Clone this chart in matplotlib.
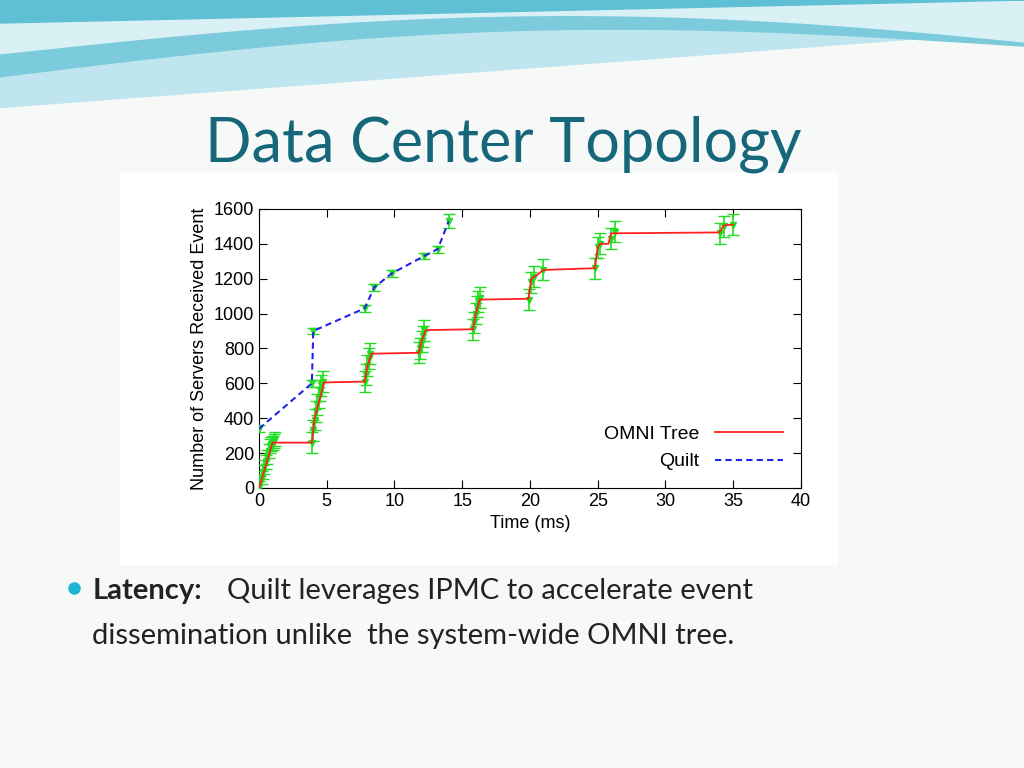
import matplotlib
matplotlib.use("Agg")
import matplotlib.pyplot as plt
import numpy as np

# Data
omni_t = [0, 1.0, 3.9, 4.1, 4.8, 7.8, 8.0, 8.3, 11.8, 12.0, 12.3, 15.8, 16.0, 16.3, 19.9, 20.1, 20.5, 21.0, 24.8, 25.0, 25.2, 25.8, 26.0, 34.0, 34.3, 35.0]
omni_n = [0, 260, 260, 400, 605, 610, 700, 770, 775, 840, 905, 910, 1000, 1080, 1085, 1200, 1220, 1250, 1260, 1380, 1400, 1400, 1460, 1465, 1505, 1510]
quilt_t = [0, 3.9, 4.0, 7.8, 8.5, 9.8, 12.2, 13.2, 14.0]
quilt_n = [340, 600, 900, 1030, 1150, 1230, 1330, 1370, 1530]
# error bar sample points (time, value, half-error)
err_t = [0, 0.1, 0.2, 0.3, 0.4, 0.5, 0.6, 0.7, 0.8, 0.9, 1.0, 1.1, 1.2,
         3.9, 4.0, 4.1, 4.2, 4.3, 4.4, 4.5, 4.6, 4.7,
         7.8, 7.9, 8.0, 8.1, 8.2, 11.8, 11.9, 12.0, 12.1, 12.2,
         15.8, 15.9, 16.0, 16.1, 16.2, 16.3, 19.9, 20.1, 20.3, 21.0,
         24.8, 25.0, 25.2, 26.0, 26.3, 34.0, 34.3, 35.0,
         0, 3.9, 4.0, 7.8, 8.5, 9.8, 12.2, 13.2, 14.0]
err_n = [0, 30, 60, 90, 120, 150, 180, 210, 240, 250, 260, 270, 280,
         260, 330, 390, 440, 480, 520, 560, 590, 610,
         610, 650, 700, 740, 770, 775, 800, 840, 870, 905,
         910, 950, 1000, 1040, 1070, 1090, 1080, 1180, 1210, 1250,
         1260, 1380, 1400, 1430, 1470, 1460, 1500, 1510,
         340, 600, 900, 1030, 1150, 1230, 1330, 1370, 1530]
err_e = [40]*13 + [60]*9 + [60]*10 + [60]*10 + [60]*8 + [20, 20, 20, 20, 20, 20, 20, 20, 40]

x_ticks = [0, 5, 10, 15, 20, 25, 30, 35, 40]
y_ticks = [0, 200, 400, 600, 800, 1000, 1200, 1400, 1600]

fig = plt.figure(figsize=(10.24, 7.68), dpi=100)
fig.patch.set_facecolor("#f7f8f8")

# header waves
bg = fig.add_axes([0, 0, 1, 1], zorder=-5)
bg.set_xlim(0, 1); bg.set_ylim(0, 1); bg.axis("off")
xs = np.linspace(0, 1, 200)
bg.fill_between(xs, 0.86 + 0.1 * xs, 1, color="#bfe6ee")
bg.fill_between(xs, 0.90 + 0.04 * np.sin(np.pi * xs) + 0.04 * xs, 1, color="#7ccbdc")
bg.fill_between(xs, 0.93 + 0.05 * np.sin(np.pi * xs * 0.9), 1, color="#d9f0f5")
bg.fill_between(xs, 0.97 + 0.03 * xs, 1, color="#5fbfd4")
bg.text(0.2, 0.79, "Data Center Topology", fontsize=44, color="#17677a", family="Lato")
bg.add_patch(plt.Rectangle((0.117, 0.265), 0.7, 0.51, color="white"))
bg.plot([0.072], [0.234], "o", color="#1fb6d6", ms=8)
bg.text(0.09, 0.22, "Latency:", fontsize=21, weight="bold", color="#222222", family="Lato")
bg.text(0.222, 0.22, "Quilt leverages IPMC to accelerate event", fontsize=21, color="#222222", family="Lato")
bg.text(0.09, 0.162, "dissemination unlike  the system-wide OMNI tree.", fontsize=21, color="#222222", family="Lato")

ax = fig.add_axes([0.253, 0.3646, 0.529, 0.3634])
ax.errorbar(err_t, err_n, yerr=err_e, fmt="v", color="#22dd22", ms=5, capsize=4, lw=1.2, zorder=3)
ax.plot(omni_t, omni_n, color="#ff2020", lw=1.3, label="OMNI Tree", zorder=4)
ax.plot(quilt_t, quilt_n, color="#2222ee", lw=1.5, ls=(0, (3, 2)), label="Quilt", zorder=4)
ax.set_xlim(0, 40); ax.set_ylim(0, 1600)
ax.set_xticks(x_ticks); ax.set_yticks(y_ticks)
ax.tick_params(direction="in", top=True, right=True, labelsize=13, length=6)
for t in ax.get_xticklabels() + ax.get_yticklabels():
    t.set_family("Liberation Sans")
ax.set_xlabel("Time (ms)", fontsize=13, family="Liberation Sans")
ax.set_ylabel("Number of Servers Received Event", fontsize=13, family="Liberation Sans")
ax.legend(loc="lower right", frameon=False, prop={"family": "Liberation Sans", "size": 14},
          markerfirst=False, handlelength=3.5)
fig.savefig("out.png", dpi=100, facecolor=fig.get_facecolor())
